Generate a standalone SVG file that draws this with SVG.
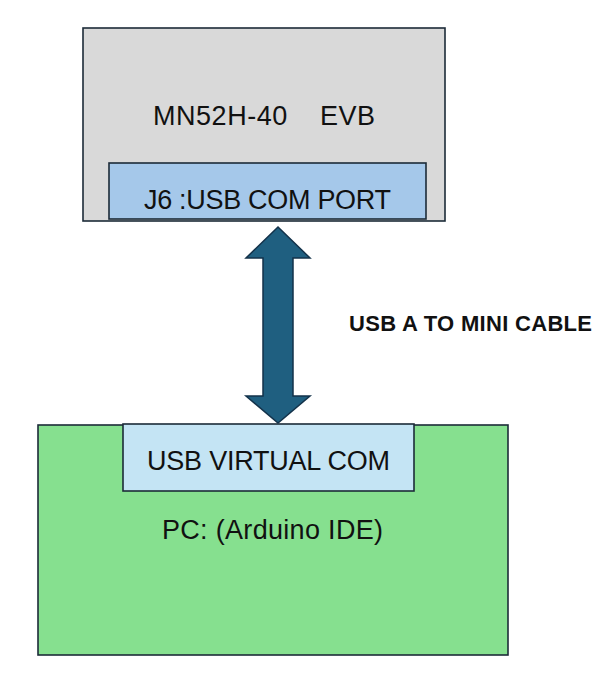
<svg xmlns="http://www.w3.org/2000/svg" width="600" height="683" viewBox="0 0 600 683">
<style>
.lbl{font-family:"Liberation Sans",Arial,sans-serif;font-size:27px;fill:#111;text-anchor:middle;white-space:pre}
.bold{font-family:"Liberation Sans",Arial,sans-serif;font-size:22px;font-weight:bold;fill:#111;text-anchor:middle}
.box{stroke:#1c2b38;stroke-width:1.6}
</style>
<rect width="600" height="683" fill="#ffffff"/>
<g id="evb">
<rect class="box" x="83" y="28" width="362" height="193" fill="#d9d9d9"/>
<text class="lbl" x="264" y="125" xml:space="preserve" textLength="222" lengthAdjust="spacing">MN52H-40    EVB</text>
</g>
<g id="j6">
<rect class="box" x="109" y="163" width="317" height="56" fill="#a5c8ea"/>
<text class="lbl" x="267.5" y="209" textLength="247" lengthAdjust="spacing">J6 :USB COM PORT</text>
</g>
<g id="pc">
<rect class="box" x="38" y="425" width="470" height="230" fill="#86e08f"/>
<text class="lbl" x="272.5" y="539" textLength="221" lengthAdjust="spacing">PC: (Arduino IDE)</text>
</g>
<g id="vcom">
<rect class="box" x="123" y="424" width="291" height="67" fill="#c4e4f4"/>
<text class="lbl" x="268.5" y="470" textLength="243" lengthAdjust="spacing">USB VIRTUAL COM</text>
</g>
<g id="connectors">
<polygon points="278,227 310,258 293,258 293,396 310,396 278,423 246,396 263,396 263,258 246,258" fill="#1f5f80" stroke="#13324a" stroke-width="1.5" stroke-linejoin="miter"/>
<text class="bold" x="470.5" y="331" textLength="243" lengthAdjust="spacing">USB A TO MINI CABLE</text>
</g>
</svg>
